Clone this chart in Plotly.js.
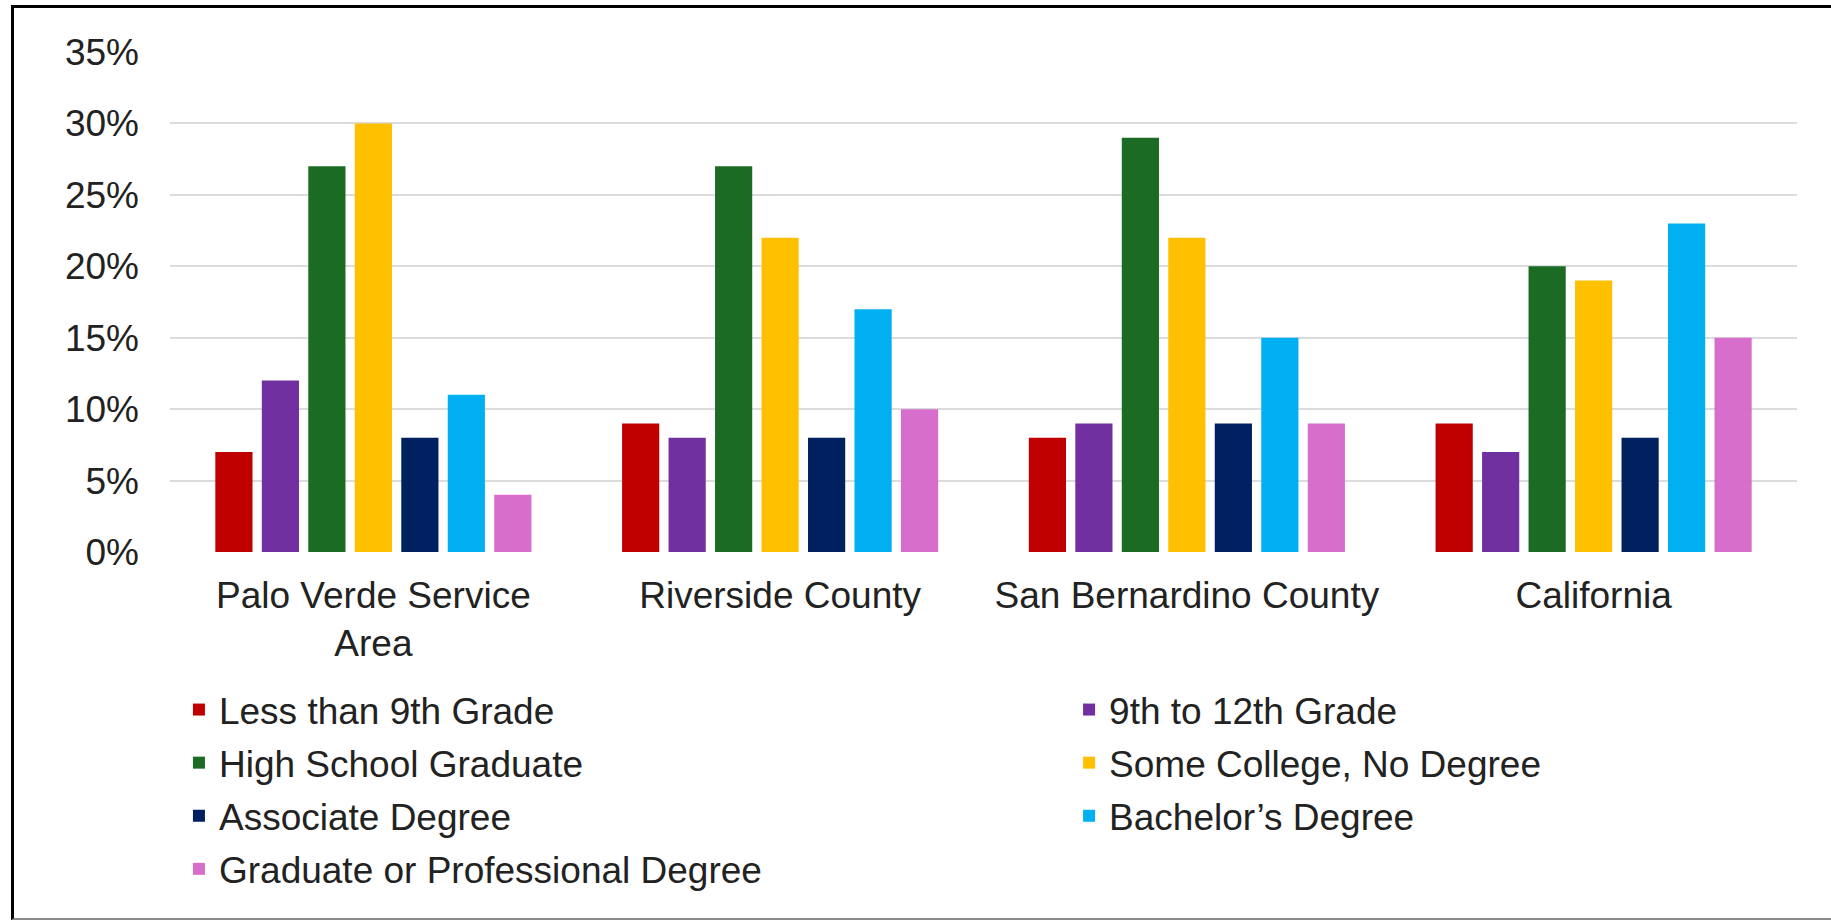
<!DOCTYPE html>
<html>
<head>
<meta charset="utf-8">
<script src="https://cdn.plot.ly/plotly-3.0.1.min.js"></script>
<style>
  html, body { margin: 0; padding: 0; background: #fff; overflow: hidden; }
  #chart { position: absolute; left: 0; top: 0; width: 1831px; height: 920px; }
  #frame { position: absolute; left: 11px; top: 5px; width: 1830px; height: 910px;
    border-top: 3px solid #000; border-left: 3px solid #000; border-bottom: 2px solid #8a8a8a;
    pointer-events: none; }
</style>
</head>
<body>
<div id="chart"></div>
<div id="frame"></div>
<script>
// educational attainment by region (share of adults 25+)
const REGIONS = ['Palo Verde Service<br>Area', 'Riverside County', 'San Bernardino County', 'California'];
const LEVELS = ['Less than 9th Grade', '9th to 12th Grade', 'High School Graduate',
  'Some College, No Degree', 'Associate Degree', 'Bachelor\u2019s Degree', 'Graduate or Professional Degree'];
const COLORS = ['#c00000', '#7030a0', '#1c6b24', '#ffc000', '#002060', '#00b0f0', '#d86ecc'];

const LESS_9TH   = [7, 9, 8, 9];
const GRADE_9_12 = [12, 8, 9, 7];
const HS_GRAD    = [27, 27, 29, 20];
const SOME_COLL  = [30, 22, 22, 19];
const ASSOCIATE  = [8, 8, 9, 8];
const BACHELOR   = [11, 17, 15, 23];
const GRADUATE   = [4, 10, 9, 15];
const SERIES = [LESS_9TH, GRADE_9_12, HS_GRAD, SOME_COLL, ASSOCIATE, BACHELOR, GRADUATE];

const FONT = { family: '"Liberation Sans", Arial, sans-serif', size: 37, color: '#222' };

// legend is laid out in two columns: even-indexed series left, odd-indexed right
const traces = SERIES.map((vals, i) => ({
  type: 'bar', name: LEVELS[i], x: REGIONS, y: vals.map((v) => v / 100),
  legend: i % 2 === 0 ? 'legend' : 'legend2', legendgroup: 'g' + i,
  marker: { color: COLORS[i], line: { width: 0 } }, hoverinfo: 'skip',
}));

const leg = (x) => ({ orientation: 'v', x, xanchor: 'left', y: -0.254, yanchor: 'top',
  traceorder: 'grouped', tracegroupgap: 2, font: FONT, bgcolor: 'rgba(0,0,0,0)' });

Plotly.newPlot('chart', traces, {
  width: 1831, height: 920,
  margin: { l: 170, r: 34, t: 52, b: 368 },
  paper_bgcolor: '#fff', plot_bgcolor: '#fff',
  font: FONT,
  barmode: 'group', bargap: 0.2, bargroupgap: 0.2,
  xaxis: { showgrid: false, showline: false, zeroline: false, ticks: '', ticklabelstandoff: 18, tickfont: FONT },
  yaxis: { range: [0, 0.35], dtick: 0.05, tickformat: '.0%', showgrid: true, gridcolor: '#dcdcdc', gridwidth: 2,
    zeroline: false, showline: false, ticks: '', ticklabelstandoff: 30, tickfont: FONT },
  showlegend: true,
  legend: leg(0.0055),
  legend2: leg(0.5526),
}, { staticPlot: true });
</script>
</body>
</html>
